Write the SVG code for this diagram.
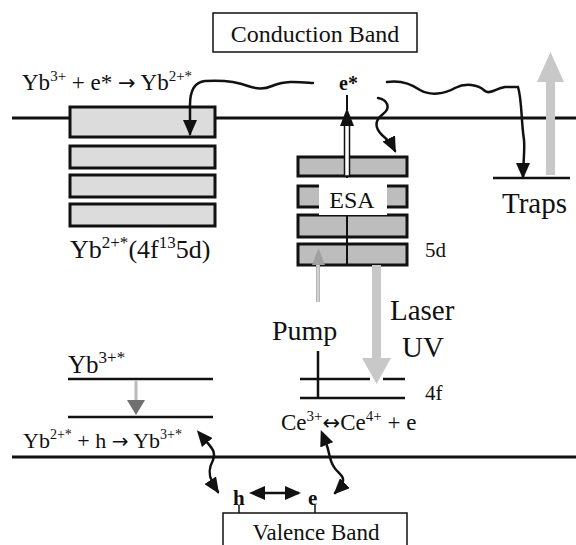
<svg xmlns="http://www.w3.org/2000/svg" width="576" height="545" viewBox="0 0 576 545">
<style>
text{font-family:"Liberation Serif","Times New Roman",serif;fill:#111}
.arw{font-family:"DejaVu Sans",sans-serif}
.band{stroke:#111;stroke-width:3;fill:none}
.lvl{stroke:#111;stroke-width:2.5;fill:none}
.yb{fill:#dcdcdc;stroke:#111;stroke-width:3}
.esa{fill:#bdbdbd;stroke:#111;stroke-width:3}
.wave{stroke:#111;stroke-width:2.5;fill:none;stroke-linecap:round}
.bold{font-weight:bold}
</style>
<defs>
<marker id="ah" viewBox="0 0 16 14" refX="14" refY="7" markerWidth="16" markerHeight="14" orient="auto" markerUnits="userSpaceOnUse">
<path d="M0,0 L16,7 L0,14 Z" fill="#111"/>
</marker>
<marker id="ahs" viewBox="0 0 16 14" refX="2" refY="7" markerWidth="16" markerHeight="14" orient="auto-start-reverse" markerUnits="userSpaceOnUse">
<path d="M0,0 L16,7 L0,14 Z" fill="#111"/>
</marker>
</defs>
<rect width="576" height="545" fill="#fff"/>

<g id="bands">
<line class="band" x1="12" y1="118" x2="576" y2="118"/>
<line class="band" x1="12" y1="457" x2="576" y2="457"/>
</g>

<g id="conduction-band">
<rect x="213" y="13" width="204" height="39" fill="#fff" stroke="#111" stroke-width="1.5"/>
<text x="315" y="42" font-size="24" text-anchor="middle">Conduction Band</text>
</g>

<g id="valence-band">
<rect x="223" y="513" width="184" height="40" fill="#fff" stroke="#111" stroke-width="1.5"/>
<line x1="239" y1="505" x2="239" y2="513" stroke="#111" stroke-width="1.5"/>
<line x1="315" y1="505" x2="315" y2="513" stroke="#111" stroke-width="1.5"/>
<text x="316" y="540" font-size="23" text-anchor="middle">Valence Band</text>
</g>

<g id="yb-reaction-top">
<text x="22" y="90" font-size="23">Yb<tspan dy="-9" font-size="15">3+</tspan><tspan dy="9"> + e* </tspan><tspan class="arw" font-size="21">→</tspan><tspan> Yb</tspan><tspan dy="-9" font-size="15">2+*</tspan></text>
</g>

<g id="yb2-levels">
<rect class="yb" x="70" y="107" width="145" height="30"/>
<rect class="yb" x="70" y="146" width="145" height="22"/>
<rect class="yb" x="70" y="175" width="145" height="22"/>
<rect class="yb" x="70" y="204" width="145" height="22"/>
<text x="70" y="258" font-size="26">Yb<tspan dy="-10" font-size="17">2+*</tspan><tspan dy="10">(4f</tspan><tspan dy="-10" font-size="17">13</tspan><tspan dy="10">5d)</tspan></text>
</g>

<g id="ce-5d-levels">
<rect class="esa" x="298" y="157" width="109" height="19"/>
<rect class="esa" x="298" y="186" width="109" height="21"/>
<rect class="esa" x="298" y="215" width="109" height="22"/>
<rect class="esa" x="298" y="244" width="109" height="21"/>
<text x="425" y="257" font-size="21">5d</text>
</g>

<g id="traps">
<line class="lvl" x1="493" y1="178" x2="570" y2="178"/>
<text x="502" y="213" font-size="29">Traps</text>
</g>

<g id="ce-4f-levels">
<line class="lvl" x1="300" y1="379" x2="370" y2="379"/>
<line class="lvl" x1="383" y1="379" x2="405" y2="379"/>
<line class="lvl" x1="300" y1="398" x2="405" y2="398"/>
<line class="lvl" x1="318" y1="351" x2="318" y2="399"/>
<text x="425" y="400" font-size="21">4f</text>
<text x="281" y="430" font-size="23">Ce<tspan dy="-9" font-size="15">3+</tspan><tspan dy="9" class="arw" font-size="21">↔</tspan><tspan>Ce</tspan><tspan dy="-9" font-size="15">4+</tspan><tspan dy="9"> + e</tspan></text>
</g>

<g id="yb3-levels">
<text x="68" y="373" font-size="25">Yb<tspan dy="-10" font-size="17">3+*</tspan></text>
<line class="lvl" x1="68" y1="379" x2="213" y2="379"/>
<line class="lvl" x1="68" y1="417" x2="213" y2="417"/>
<line x1="136" y1="381" x2="136" y2="401" stroke="#bbb" stroke-width="3"/>
<path d="M127,400 L145,400 L136,415 Z" fill="#707070"/>
<text x="23" y="448" font-size="22">Yb<tspan dy="-9" font-size="14">2+*</tspan><tspan dy="9"> + h </tspan><tspan class="arw" font-size="20">→</tspan><tspan> Yb</tspan><tspan dy="-9" font-size="14">3+*</tspan></text>
</g>

<g id="labels">
<text x="339" y="90" font-size="20" class="bold">e*</text>
<text x="272" y="340" font-size="28">Pump</text>
<text x="390" y="320" font-size="29">Laser</text>
<text x="402" y="357" font-size="29">UV</text>
<text x="233" y="505" font-size="21" class="bold">h</text>
<text x="308" y="505" font-size="21" class="bold">e</text>
</g>

<g id="connectors">
<path class="wave" d="M313,83 C300,82 285,80 272,86 C263,90 256,89 248,86 C235,81 220,80 205,81 C195,82 190,90 190,105 L190,134" marker-end="url(#ah)"/>
<path class="wave" d="M387,82 C400,80 410,83 420,90 C430,96 445,94 455,88 C465,83 478,84 485,91 C490,95 496,88 505,87 L518,87 C522,100 521,120 524,140 C525,150 523,165 523,177" marker-end="url(#ah)"/>
<path class="wave" d="M378,98 C388,100 391,108 383,114 C374,121 375,128 382,135 C388,140 392,145 395,151" marker-end="url(#ah)"/>
<line x1="347" y1="176" x2="347" y2="265" stroke="#111" stroke-width="2"/>
<rect x="344.5" y="122" width="5" height="54" fill="#fff" stroke="#111" stroke-width="1.5"/>
<path d="M340,126 L354,126 L347,108 Z" fill="#111"/>
<line x1="347" y1="95" x2="347" y2="110" stroke="#111" stroke-width="2"/>
<rect x="319" y="178" width="68" height="37" fill="#fff"/>
<text x="352" y="208" font-size="24" text-anchor="middle">ESA</text>
<rect x="546" y="80" width="9" height="95" fill="#c8c8c8"/>
<path d="M537,82 L564,82 L550.5,52 Z" fill="#c8c8c8"/>
<line x1="318" y1="302" x2="318" y2="262" stroke="#b5b5b5" stroke-width="4"/>
<line x1="318" y1="302" x2="318" y2="262" stroke="#e6e6e6" stroke-width="1.2"/>
<path d="M312,265 L325,265 L318.5,248 Z" fill="#a0a0a0"/>
<rect x="372" y="265" width="9" height="95" fill="#c8c8c8"/>
<path d="M362,358 L391,358 L376.5,384 Z" fill="#c8c8c8"/>
<path class="wave" d="M206,441 C212,448 216,452 213,460 C209,468 208,474 212,481 C214,486 216,489 218,492" marker-start="url(#ahs)" marker-end="url(#ah)"/>
<path class="wave" d="M326,443 C330,453 329,460 334,467 C338,474 346,476 342,484 C340,488 337,491 335,493" marker-start="url(#ahs)" marker-end="url(#ah)"/>
<line x1="263" y1="493" x2="299" y2="493" stroke="#111" stroke-width="2.5" marker-start="url(#ahs)" marker-end="url(#ah)"/>
</g>
</svg>
